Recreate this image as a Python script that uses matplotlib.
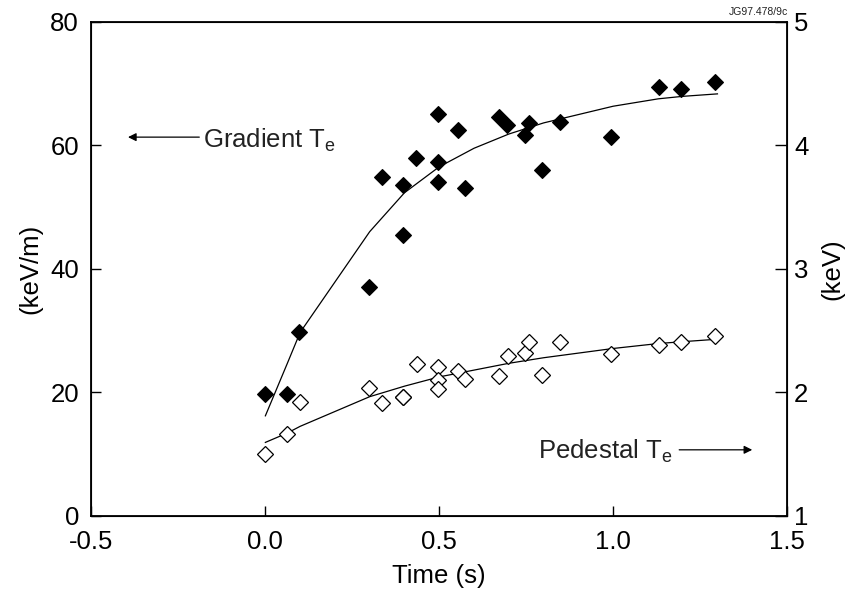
import matplotlib
matplotlib.use("Agg")
import matplotlib.pyplot as plt

plt.rcParams['font.family'] = ['Liberation Sans', 'DejaVu Sans']
plt.rcParams['mathtext.fontset'] = 'custom'
plt.rcParams['mathtext.rm'] = 'Liberation Sans'
plt.rcParams['mathtext.it'] = 'Liberation Sans'

# Edge temperature gradient (keV/m), filled diamonds
grad_t = [0.0, 0.062, 0.098, 0.298, 0.335, 0.397, 0.397, 0.433, 0.497, 0.497,
          0.497, 0.554, 0.573, 0.671, 0.695, 0.746, 0.757, 0.795, 0.846, 0.995,
          1.133, 1.194, 1.293]
grad_v = [19.7, 19.7, 29.7, 37.1, 54.9, 53.5, 45.5, 57.9, 65.1, 57.3,
          54.0, 62.4, 53.1, 64.6, 63.3, 61.7, 63.6, 56.0, 63.7, 61.3,
          69.4, 69.1, 70.3]

# Pedestal temperature, open diamonds (plotted on the keV/m scale)
ped_t = [0.0, 0.062, 0.1, 0.298, 0.335, 0.397, 0.397, 0.435, 0.497, 0.497,
         0.497, 0.554, 0.574, 0.673, 0.697, 0.746, 0.759, 0.795, 0.846, 0.995,
         1.133, 1.194, 1.293]
ped_v = [10.0, 13.2, 18.4, 20.7, 18.3, 19.3, 19.3, 24.6, 24.1, 22.0,
         20.6, 23.5, 22.2, 22.6, 25.9, 26.3, 28.1, 22.8, 28.2, 26.2,
         27.6, 28.1, 29.1]

# Fitted trend curves
fit_t = [0.0, 0.0625, 0.1, 0.3, 0.4, 0.5, 0.6, 0.7, 0.8, 1.0, 1.13, 1.2, 1.3]
grad_fit = [16.2, 24.6, 29.7, 46.0, 52.3, 56.5, 59.5, 61.8, 63.6, 66.3, 67.5, 67.9, 68.3]
ped_fit = [11.9, 13.4, 14.5, 19.3, 21.0, 22.5, 23.6, 24.7, 25.6, 27.1, 27.9, 28.2, 28.6]

x_ticks = [-0.5, 0.0, 0.5, 1.0, 1.5]
x_tick_labels = ['-0.5', '0.0', '0.5', '1.0', '1.5']
left_ticks = [0, 20, 40, 60, 80]
right_ticks = [1, 2, 3, 4, 5]

FS = 18.5

fig = plt.figure(figsize=(8.51, 5.91), dpi=100)
ax = fig.add_axes([0.1075, 0.127, 0.8173, 0.8365])

ax.plot(fit_t, grad_fit, color='black', lw=0.9, zorder=2)
ax.plot(fit_t, ped_fit, color='black', lw=0.9, zorder=2)
ax.plot(grad_t, grad_v, ls='none', marker='D', ms=8.3, mfc='black', mec='black',
        mew=0.8, zorder=3)
ax.plot(ped_t, ped_v, ls='none', marker='D', ms=8.3, mfc='white', mec='black',
        mew=0.9, zorder=3)

ax.set_xlim(-0.5, 1.5)
ax.set_ylim(0, 80)
ax.set_xticks(x_ticks)
ax.set_xticklabels(x_tick_labels)
ax.set_yticks(left_ticks)
ax.tick_params(direction='in', length=7, width=1, labelsize=FS)
ax.tick_params(axis='y', pad=9)
ax.tick_params(axis='x', pad=10)
for s in ax.spines.values():
    s.set_linewidth(1.3)
ax.set_xlabel('Time (s)', fontsize=FS, labelpad=7)
ax.set_ylabel('(keV/m)', fontsize=FS, labelpad=6)

ax2 = ax.twinx()
ax2.set_ylim(1, 5)
ax2.set_yticks(right_ticks)
ax2.tick_params(direction='in', length=9, width=1, labelsize=FS, pad=5)
ax2.set_ylabel('(keV)', fontsize=FS, labelpad=9)

# Labels with arrows
ax.annotate('', xy=(-0.395, 61.3), xytext=(-0.19, 61.3),
            arrowprops=dict(arrowstyle='-|>', color='black', lw=0.9,
                            mutation_scale=12, shrinkA=0, shrinkB=0))
ax.text(-0.18, 59.6, r'Gradient T$_{\mathregular{e}}$', fontsize=FS,
        ha='left', va='baseline', color='#222222')

ax.text(0.785, 9.3, r'Pedestal T$_{\mathregular{e}}$', fontsize=FS,
        ha='left', va='baseline', color='#222222')
ax.annotate('', xy=(1.40, 10.7), xytext=(1.19, 10.7),
            arrowprops=dict(arrowstyle='-|>', color='black', lw=0.9,
                            mutation_scale=12, shrinkA=0, shrinkB=0))

fig.text(0.926, 0.972, 'JG97.478/9c', fontsize=7.5, ha='right', va='bottom',
         color='#222222')

fig.savefig('out.png', dpi=100)
